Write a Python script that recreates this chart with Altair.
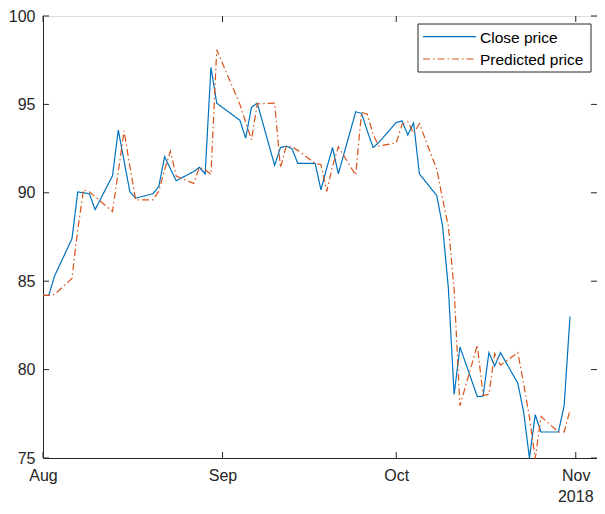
import altair as alt
import pandas as pd

dates = ["2018-08-01","2018-08-02","2018-08-03","2018-08-06","2018-08-07","2018-08-08","2018-08-09","2018-08-10",
         "2018-08-13","2018-08-14","2018-08-15","2018-08-16","2018-08-17","2018-08-20","2018-08-21","2018-08-22",
         "2018-08-23","2018-08-24","2018-08-27","2018-08-28","2018-08-29","2018-08-30","2018-08-31",
         "2018-09-04","2018-09-05","2018-09-06","2018-09-07","2018-09-10","2018-09-11","2018-09-12","2018-09-13",
         "2018-09-14","2018-09-17","2018-09-18","2018-09-19","2018-09-20","2018-09-21","2018-09-24","2018-09-25",
         "2018-09-26","2018-09-27","2018-09-28",
         "2018-10-01","2018-10-02","2018-10-03","2018-10-04","2018-10-05","2018-10-08","2018-10-09","2018-10-10",
         "2018-10-11","2018-10-12","2018-10-15","2018-10-16","2018-10-17","2018-10-18","2018-10-19","2018-10-22",
         "2018-10-23","2018-10-24","2018-10-25","2018-10-26","2018-10-29","2018-10-30","2018-10-31"]

close_price = [84.2, 84.2, 85.3, 87.4, 90.05, 90.0, 89.95, 89.05, 90.96, 93.55, 91.8, 90.06, 89.7, 89.95, 90.36,
               92.04, 91.36, 90.68, 91.2, 91.44, 91.07, 97.09, 95.07,
               94.1, 93.09, 94.84, 95.07, 91.55, 92.56, 92.64, 92.49, 91.66, 91.66, 90.17, 91.4, 92.56, 91.07,
               94.58, 94.5, 93.5, 92.56, 92.85,
               93.98, 94.06, 93.27, 93.95, 91.07, 89.84, 88.12, 84.6, 78.59, 81.28, 78.47, 78.5, 80.96, 80.2,
               80.96, 79.22, 77.6, 75.0, 77.45, 76.47, 76.47, 77.97, 83.0]

predicted_price = [84.2, 84.2, 84.25, 85.16, 87.9, 90.17, 90.06, 89.78, 88.94, 91.2, 93.5, 91.5, 89.6, 89.6, 90.1,
                   91.3, 92.35, 90.95, 90.53, 91.44, 91.3, 91.05, 98.09,
                   95.0, 94.0, 93.0, 95.03, 95.07, 91.42, 92.64, 92.6, 92.4, 91.66, 91.6, 90.08, 91.5, 92.6,
                   91.0, 94.55, 94.45, 93.3, 92.64,
                   92.83, 93.87, 94.02, 93.35, 93.91, 91.33, 89.65, 88.12, 84.5, 77.95, 81.39, 78.53, 78.6, 80.9,
                   80.25, 80.96, 79.2, 77.3, 74.95, 77.35, 76.47, 76.47, 77.7]

series_names = ["Close price", "Predicted price"]
series_colors = ["#0072BD", "#D95319"]
series_dash = [[1, 0], [7, 3, 1.5, 3]]
month_ticks = ["2018-08-01", "2018-09-01", "2018-10-01", "2018-11-01"]
y_ticks = [75, 80, 85, 90, 95, 100]
year_label = "2018"

W, H = 554, 442
FONT = "Liberation Sans"
AX = "#262626"
FS = 16

df = pd.DataFrame({"date": pd.to_datetime(dates), series_names[0]: close_price, series_names[1]: predicted_price})
long = df.melt("date", var_name="series", value_name="price")

xs = alt.Scale(domain=[pd.Timestamp("2018-08-01").isoformat(), pd.Timestamp("2018-11-04 16:00").isoformat()])
ys = alt.Scale(domain=[75, 100], nice=False, zero=False)

month_dt = [alt.DateTime(year=int(m[:4]), month=int(m[5:7]), date=1) for m in month_ticks]

x_axis = alt.Axis(values=month_dt, format="%b", ticks=False, grid=False, title=None,
                  labelFont=FONT, labelFontSize=FS, labelColor=AX, labelPadding=9,
                  domainColor=AX, labelFlush=False)
y_axis = alt.Axis(values=y_ticks, ticks=False, grid=False, title=None,
                  labelFont=FONT, labelFontSize=FS, labelColor=AX, labelPadding=8,
                  domainColor=AX)

color = alt.Color("series:N", scale=alt.Scale(domain=series_names, range=series_colors), legend=None)
dash = alt.StrokeDash("series:N", scale=alt.Scale(domain=series_names, range=series_dash), legend=None)

base = alt.Chart(long).encode(
    x=alt.X("date:T", scale=xs, axis=x_axis),
    y=alt.Y("price:Q", scale=ys, axis=y_axis),
    color=color, strokeDash=dash,
)
close_line = base.transform_filter(alt.datum.series == series_names[0]).mark_line(strokeWidth=1.2)
pred_line = base.transform_filter(alt.datum.series == series_names[1]).mark_line(strokeWidth=1.2)

tick_df = pd.DataFrame({"date": pd.to_datetime(month_ticks)})
xt_bottom = alt.Chart(tick_df).mark_rule(color=AX, strokeWidth=1).encode(
    x=alt.X("date:T", scale=xs), y=alt.value(H), y2=alt.value(H - 6))
xt_top = alt.Chart(tick_df).mark_rule(color=AX, strokeWidth=1).encode(
    x=alt.X("date:T", scale=xs), y=alt.value(0), y2=alt.value(6))

yt_df = pd.DataFrame({"v": y_ticks})
yt_left = alt.Chart(yt_df).mark_rule(color=AX, strokeWidth=1).encode(
    y=alt.Y("v:Q", scale=ys), x=alt.value(0), x2=alt.value(6))
yt_right = alt.Chart(yt_df).mark_rule(color=AX, strokeWidth=1).encode(
    y=alt.Y("v:Q", scale=ys), x=alt.value(W - 6), x2=alt.value(W))

year_df = pd.DataFrame({"date": pd.to_datetime([month_ticks[-1]]), "t": [year_label]})
year_text = alt.Chart(year_df).mark_text(font=FONT, fontSize=FS, color=AX, baseline="top").encode(
    x=alt.X("date:T", scale=xs), y=alt.value(H + 31), text="t:N")

# legend box (drawn by hand, MATLAB style)
LX0, LX1, LY0, LY1 = 375, 548, 8, 56
ROWS = [20.7, 43.0]
one = pd.DataFrame({"k": [0]})
leg_box = alt.Chart(one).mark_rect(fill="white", stroke=AX, strokeWidth=1).encode(
    x=alt.value(LX0), x2=alt.value(LX1), y=alt.value(LY0), y2=alt.value(LY1))
leg_layers = [leg_box]
for i, name in enumerate(series_names):
    leg_layers.append(alt.Chart(one).mark_rule(color=series_colors[i], strokeWidth=1.2,
                                               strokeDash=series_dash[i]).encode(
        x=alt.value(LX0 + 5), x2=alt.value(LX0 + 58), y=alt.value(ROWS[i])))
    leg_layers.append(alt.Chart(one).mark_text(font=FONT, fontSize=15.5, color="#000000",
                                               align="left", baseline="middle").encode(
        x=alt.value(LX0 + 62), y=alt.value(ROWS[i] + 1), text=alt.value(name)))

chart = alt.layer(close_line, pred_line, xt_bottom, xt_top, yt_left, yt_right, year_text,
                  *leg_layers).properties(
    width=W, height=H,
    autosize=alt.AutoSizeParams(type="none"),
    padding={"left": 35, "top": 8, "right": 0, "bottom": 48},
).configure_view(stroke=AX, strokeWidth=1).configure(background="white")

chart.save("out.html", embed_options={"renderer": "svg", "actions": False})
